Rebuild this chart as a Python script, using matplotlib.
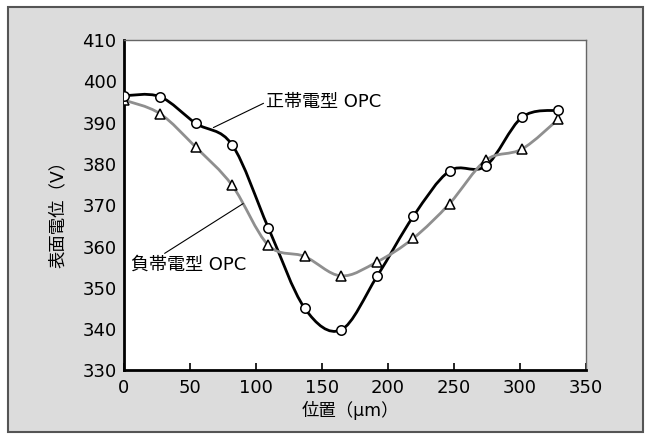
import matplotlib
matplotlib.use("Agg")
import matplotlib.pyplot as plt
from matplotlib.path import Path
from matplotlib.patches import PathPatch, Rectangle

plt.rcParams['font.family'] = ['DejaVu Sans', 'Noto Sans CJK JP']

# measured surface potential across the exposed spot
position = [0, 27.4, 54.8, 82.2, 109.6, 137.0, 164.4, 191.8, 219.2, 246.6, 274.0, 301.4, 328.8]
positive_opc = [396.5, 396.3, 389.8, 384.6, 364.5, 345.1, 339.8, 352.8, 367.3, 378.3, 379.5, 391.3, 393.0]
negative_opc = [395.5, 392.2, 384.0, 374.8, 360.3, 357.6, 352.9, 356.3, 362.0, 370.4, 380.9, 383.6, 390.8]

x_ticks = [0, 50, 100, 150, 200, 250, 300, 350]
y_ticks = [330, 340, 350, 360, 370, 380, 390, 400, 410]


def smooth_path(xs, ys):
    # Catmull-Rom segments turned into cubic Bezier pieces
    pts = list(zip(xs, ys))
    verts = [pts[0]]
    codes = [Path.MOVETO]
    n = len(pts)
    for i in range(n - 1):
        p0 = pts[max(i - 1, 0)]
        p1 = pts[i]
        p2 = pts[i + 1]
        p3 = pts[min(i + 2, n - 1)]
        c1 = (p1[0] + (p2[0] - p0[0]) / 6, p1[1] + (p2[1] - p0[1]) / 6)
        c2 = (p2[0] - (p3[0] - p1[0]) / 6, p2[1] - (p3[1] - p1[1]) / 6)
        verts += [c1, c2, p2]
        codes += [Path.CURVE4] * 3
    return Path(verts, codes)


fig = plt.figure(figsize=(6.46, 4.37), dpi=100)
fig.patch.set_facecolor('white')
fig.patches.append(Rectangle((8 / 646, 1 - 432 / 437), 635 / 646, 425 / 437,
                             transform=fig.transFigure, facecolor='#dcdcdc',
                             edgecolor='#555555', linewidth=1.5, zorder=-10))

ax = fig.add_axes([0.1912, 0.1522, 0.7163, 0.7563])
ax.set_facecolor('white')

ax.add_patch(PathPatch(smooth_path(position, positive_opc), facecolor='none',
                       edgecolor='black', linewidth=2.0, zorder=2))
ax.add_patch(PathPatch(smooth_path(position, negative_opc), facecolor='none',
                       edgecolor='#8f8f8f', linewidth=2.0, zorder=3))

ax.plot(position, negative_opc, linestyle='none', marker='^', markersize=7.5,
        markerfacecolor='white', markeredgecolor='black', markeredgewidth=1.1, zorder=4)
ax.plot(position, positive_opc, linestyle='none', marker='o', markersize=6.8,
        markerfacecolor='white', markeredgecolor='black', markeredgewidth=1.1, zorder=5)

# labels with leader lines
ax.annotate('正帯電型 OPC', xy=(68, 388.8), xytext=(108, 395.0),
            fontsize=13, va='center', ha='left',
            arrowprops=dict(arrowstyle='-', color='black', lw=0.8,
                            shrinkA=0, shrinkB=0, relpos=(0, 0.5)))
ax.annotate('負帯電型 OPC', xy=(90.5, 370.4), xytext=(6, 355.5),
            fontsize=13, va='center', ha='left',
            arrowprops=dict(arrowstyle='-', color='black', lw=0.8,
                            shrinkA=0, shrinkB=0, relpos=(0.25, 1.0)))

ax.set_xlim(0, 350)
ax.set_ylim(330, 410)
ax.set_xticks(x_ticks)
ax.set_yticks(y_ticks)
ax.tick_params(axis='x', direction='in', length=5, width=1.2, pad=6, labelsize=13)
ax.tick_params(axis='y', length=0, pad=5, labelsize=13)

for side in ['left', 'bottom']:
    ax.spines[side].set_linewidth(2.0)
    ax.spines[side].set_color('black')
for side in ['top', 'right']:
    ax.spines[side].set_linewidth(1.0)
    ax.spines[side].set_color('#666666')

ax.set_xlabel('位置（μm）', fontsize=12.5)
ax.xaxis.set_label_coords(0.49, -0.12)
ax.xaxis.label.set_va('center')
ax.set_ylabel('表面電位（V）', fontsize=12.5)
ax.yaxis.set_label_coords(-0.142, 0.486)
ax.yaxis.label.set_va('center')

fig.savefig('out.png', dpi=100)
